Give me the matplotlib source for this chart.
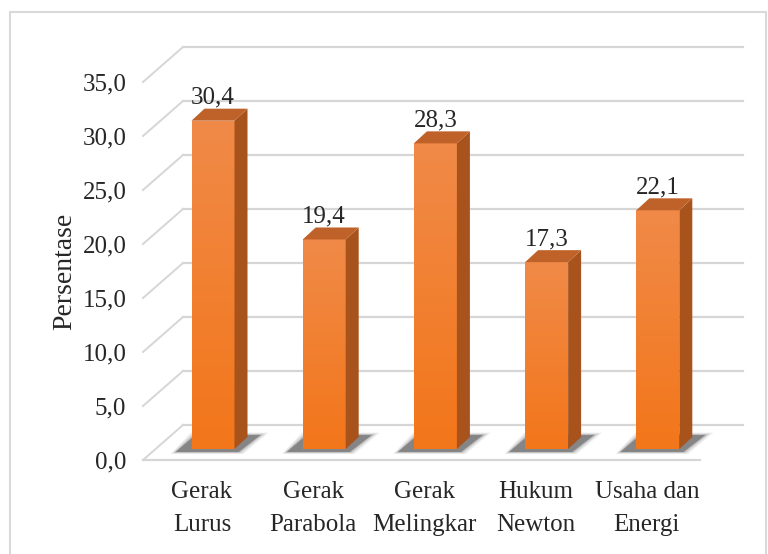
import matplotlib
matplotlib.use("Agg")
import matplotlib.pyplot as plt
import numpy as np
from matplotlib.patches import Polygon, Rectangle
from matplotlib.colors import LinearSegmentedColormap

categories = ["Gerak\nLurus", "Gerak\nParabola", "Gerak\nMelingkar", "Hukum\nNewton", "Usaha dan\nEnergi"]
values = [30.4, 19.4, 28.3, 17.3, 22.1]
value_labels = ["30,4", "19,4", "28,3", "17,3", "22,1"]
yticks = [0, 5, 10, 15, 20, 25, 30, 35]
ytick_labels = ["0,0", "5,0", "10,0", "15,0", "20,0", "25,0", "30,0", "35,0"]

plt.rcParams['font.family'] = ['Liberation Serif', 'DejaVu Serif']

W, H = 768, 554
fig = plt.figure(figsize=(W / 100, H / 100), dpi=100)
fig.patch.set_facecolor('white')

# pixel geometry
px_u = 111.2   # px per category unit
px_v = 10.8    # px per value unit
x0_px, x1_px = 143, 700
yb_px, yt_px = 460, 82
ax = fig.add_axes([x0_px / W, (H - yb_px) / H, (x1_px - x0_px) / W, (yb_px - yt_px) / H])
ulo = (x0_px - 202) / px_u
uhi = (x1_px - 202) / px_u
ax.set_xlim(ulo, uhi)
ax.set_ylim(0, 35)
for s in ax.spines.values():
    s.set_visible(False)
ax.set_facecolor('none')

def pu(p):
    return p / px_u

def pv(p):
    return p / px_v

# wall depth
du, dv = pu(40), pv(35)
u_back_right = pu(743 - 202)
grid_c = '#d6d6d6'
for t in yticks:
    ax.plot([ulo + du, u_back_right], [t + dv, t + dv], color=grid_c, lw=1.6, clip_on=False, zorder=1)
    ax.plot([ulo, ulo + du], [t, t + dv], color=grid_c, lw=1.4, clip_on=False, zorder=1)
ax.plot([ulo, uhi], [0, 0], color=grid_c, lw=1.6, clip_on=False, zorder=1)

# bars
x = np.arange(len(values))
off_u, off_v = pu(11), pv(11)
bw = pu(43)
ddu, ddv = pu(13), pv(12)
xc = x + off_u

# soft shadows on the floor
for i, v in enumerate(values):
    xl = xc[i] - bw / 2
    yb = off_v
    for k, a in zip([8, 5, 2, 0], [0.08, 0.12, 0.2, 0.35]):
        pts = [(xl + pu(-16 - k * 0.6), yb + pv(-3 - k * 0.25)),
               (xl + bw + pu(4 + k * 0.6), yb + pv(-3 - k * 0.25)),
               (xl + bw + pu(26 + k), yb + pv(14 + k * 0.3)),
               (xl + pu(4 - k * 0.6), yb + pv(14 + k * 0.3))]
        ax.add_patch(Polygon(pts, closed=True, facecolor='#2e2e2e', edgecolor='none',
                             alpha=a, clip_on=False, zorder=2))

bars = ax.bar(xc, values, width=bw, bottom=off_v, color='#F07D30', edgecolor='none',
              zorder=3, clip_on=False)

cmap = LinearSegmentedColormap.from_list('o', ['#F3761A', '#F08A48'])
grad = np.linspace(0, 1, 100).reshape(-1, 1)
for i, (b, v) in enumerate(zip(bars, values)):
    xl = xc[i] - bw / 2
    xr = xl + bw
    yb = off_v
    yt = off_v + v
    im = ax.imshow(grad, cmap=cmap, extent=(xl, xr, yb, yt), origin='lower',
                   aspect='auto', zorder=3.5, interpolation='bilinear')
    im.set_clip_path(b)
    side = [(xr, yb), (xr, yt), (xr + ddu, yt + ddv), (xr + ddu, yb + ddv)]
    ax.add_patch(Polygon(side, closed=True, facecolor='#A8521C', edgecolor='none',
                         zorder=3.6, clip_on=False))
    top = [(xl, yt), (xr, yt), (xr + ddu, yt + ddv), (xl + ddu, yt + ddv)]
    ax.add_patch(Polygon(top, closed=True, facecolor='#BF6229', edgecolor='none',
                         zorder=3.6, clip_on=False))
    ax.text(xc[i], yt + ddv + pv(5), value_labels[i], ha='center', va='baseline',
            fontsize=18, color='#262626', zorder=5)

ax.set_xlim(ulo, uhi)
ax.set_ylim(0, 35)

ax.set_yticks(yticks)
ax.set_yticklabels(ytick_labels)
ax.set_xticks(x)
ax.set_xticklabels(categories, linespacing=1.65)
ax.tick_params(axis='y', length=0, pad=12, labelsize=18, labelcolor='#262626')
ax.tick_params(axis='x', length=0, pad=15, labelsize=18, labelcolor='#262626')

ax.text((65 - x0_px) / (x1_px - x0_px), (yb_px - 271) / (yb_px - yt_px), 'Persentase',
        transform=ax.transAxes, rotation=90, ha='center', va='center',
        fontsize=20, color='#262626')

# outer border
fig.patches.append(Rectangle((10 / W, -0.01), (766 - 10) / W, (H - 12) / H + 0.01,
                             transform=fig.transFigure, fill=False,
                             edgecolor='#d9d9d9', lw=1.5))

fig.savefig('out.png', dpi=100)
